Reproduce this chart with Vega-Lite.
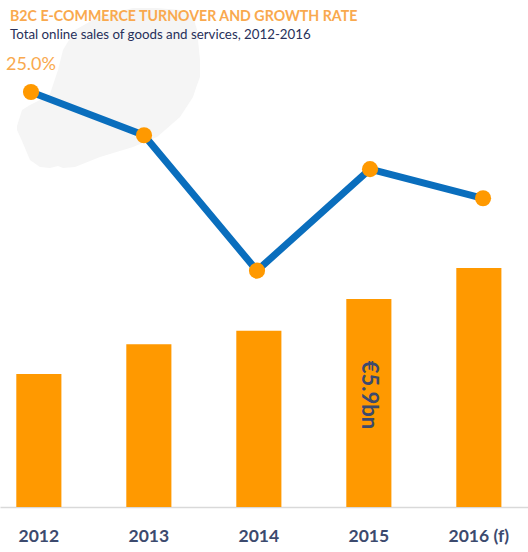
{"$schema":"https://vega.github.io/schema/vega-lite/v6.json","width":528,"height":502,"autosize":{"type":"none"},"padding":{"top":5,"left":0,"right":0,"bottom":45},"background":"white","view":{"stroke":null},
"title":{"text":"B2C E-COMMERCE TURNOVER AND GROWTH RATE","subtitle":"Total online sales of goods and services, 2012-2016","anchor":"start","frame":"group","offset":-36,"dx":10,"font":"Lato","fontSize":14.2,"fontWeight":"bold","color":"#F9A94E","subtitleFont":"Lato","subtitleFontSize":13.3,"subtitleColor":"#27305A","subtitlePadding":4},
"datasets":{"main":[{"year":"2012","turnover":3.77,"growth":25.0,"label":"25.0%"},{"year":"2013","turnover":4.62,"growth":20.4},{"year":"2014","turnover":5.0,"growth":6.0},{"year":"2015","turnover":5.9,"growth":16.8,"bn":"€5.9bn"},{"year":"2016 (f)","turnover":6.78,"growth":13.7}],
"map":[{"mx":17,"top":126,"bot":130},{"mx":22,"top":110,"bot":141},{"mx":30,"top":105,"bot":160},{"mx":40,"top":100,"bot":167},{"mx":50,"top":94,"bot":168},{"mx":58,"top":70,"bot":166},{"mx":63,"top":50,"bot":168},{"mx":75,"top":30,"bot":167},{"mx":100,"top":16,"bot":157},{"mx":133,"top":8,"bot":147},{"mx":157,"top":8,"bot":137},{"mx":180,"top":10,"bot":117},{"mx":193,"top":16,"bot":97},{"mx":197,"top":30,"bot":85},{"mx":200,"top":60,"bot":77}]},
"data":{"name":"main"},
"layer":[
{"data":{"name":"map"},"mark":{"type":"area","color":"#F5F5F5"},"encoding":{"x":{"field":"mx","type":"quantitative","axis":null,"scale":{"domain":[0,528],"nice":false,"zero":false}},"y":{"field":"top","type":"quantitative","axis":null,"scale":{"domain":[507,5],"nice":false,"zero":false}},"y2":{"field":"bot"}}},
{"mark":{"type":"bar","color":"#FF9900"},"encoding":{"x":{"field":"year","type":"nominal","sort":null,"title":null,"scale":{"domain":["2012","2013","2014","2015","2016 (f)"],"paddingInner":0.59,"paddingOuter":0.195,"align":0.38},"axis":{"labelAngle":0,"ticks":false,"domainColor":"#D9D9D9","domainWidth":1.5,"labelFont":"Lato","labelFontSize":17.5,"labelFontWeight":"bold","labelColor":"#3C4A6E","labelPadding":20,"grid":false}},"y":{"field":"turnover","type":"quantitative","title":null,"axis":null,"scale":{"domain":[0,14.24],"nice":false}}}},
{"mark":{"type":"text","angle":90,"font":"Lato","fontSize":22,"fontWeight":"bold","color":"#3C4A6E","align":"center","baseline":"middle"},"transform":[{"filter":"datum.bn"}],"encoding":{"x":{"field":"year","type":"nominal","sort":null,"axis":null,"scale":{"type":"band","domain":["2012","2013","2014","2015","2016 (f)"],"paddingInner":0.59,"paddingOuter":0.195,"align":0.38}},"text":{"field":"bn"},"y":{"datum":3.18,"type":"quantitative","scale":{"domain":[0,14.24],"nice":false},"axis":null}}},
{"mark":{"type":"line","color":"#0A6EBD","strokeWidth":7},"encoding":{"x":{"field":"year","type":"nominal","sort":null,"axis":null,"scale":{"type":"point","domain":["2012","2013","2014","2015","2016 (f)"],"padding":0.336,"align":0.408}},"y":{"field":"growth","type":"quantitative","axis":null,"title":null,"scale":{"domain":[-19.14,34.26],"nice":false}}}},
{"mark":{"type":"point","filled":true,"opacity":1,"color":"#FF9900","size":260},"encoding":{"x":{"field":"year","type":"nominal","sort":null,"axis":null,"scale":{"type":"point","domain":["2012","2013","2014","2015","2016 (f)"],"padding":0.336,"align":0.408}},"y":{"field":"growth","type":"quantitative","axis":null,"scale":{"domain":[-19.14,34.26],"nice":false}}}},
{"mark":{"type":"text","font":"Lato","fontSize":18,"color":"#F9A94E","dy":-27,"align":"center"},"transform":[{"filter":"datum.label"}],"encoding":{"x":{"field":"year","type":"nominal","sort":null,"axis":null,"scale":{"type":"point","domain":["2012","2013","2014","2015","2016 (f)"],"padding":0.336,"align":0.408}},"text":{"field":"label"},"y":{"field":"growth","type":"quantitative","axis":null,"scale":{"domain":[-19.14,34.26],"nice":false}}}}
],"resolve":{"scale":{"y":"independent","x":"independent"}}}
